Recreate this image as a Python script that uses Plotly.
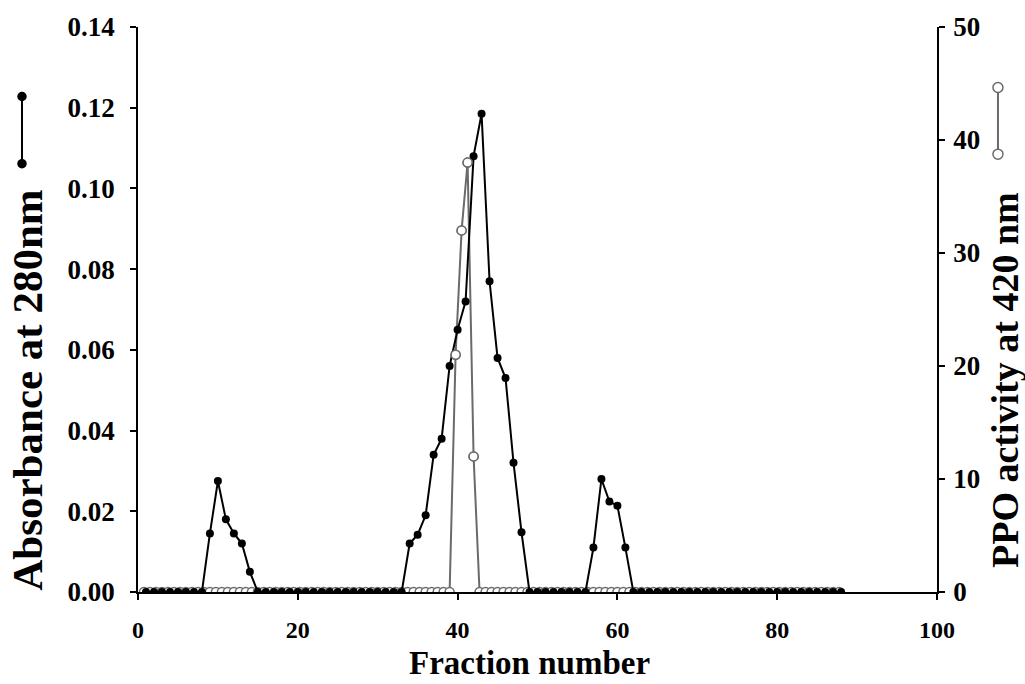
import plotly.graph_objects as go

# Gel-filtration elution profile: protein (A280) and PPO activity per fraction
fraction = list(range(1, 89))
absorbance = [
    0, 0, 0, 0, 0, 0, 0, 0, 0.0145, 0.0275,          # 1-10
    0.018, 0.0145, 0.012, 0.005, 0, 0, 0, 0, 0, 0,   # 11-20
    0, 0, 0, 0, 0, 0, 0, 0, 0, 0,                    # 21-30
    0, 0, 0, 0.012, 0.0142, 0.019, 0.034, 0.038, 0.056, 0.065,   # 31-40
    0.072, 0.108, 0.1185, 0.077, 0.058, 0.053, 0.032, 0.0148, 0, 0,  # 41-50
    0, 0, 0, 0, 0, 0, 0.011, 0.028, 0.0224, 0.0214,  # 51-60
    0.011, 0, 0, 0, 0, 0, 0, 0, 0, 0,                # 61-70
    0, 0, 0, 0, 0, 0, 0, 0, 0, 0,                    # 71-80
    0, 0, 0, 0, 0, 0, 0, 0,                          # 81-88
]

# PPO assay points (plotted on the fraction scale)
ppo_fraction = [round(0.75 * k, 2) for k in range(1, 118)]
ppo_activity = [0.0] * 117
ppo_peak = {53: 21.0, 54: 32.0, 55: 38.0, 56: 12.0}
for k, v in ppo_peak.items():
    ppo_activity[k - 1] = v

FONT = "Liberation Serif"
GREY = "#6a6a6a"

fig = go.Figure()

# PPO activity profile (right axis, bottom layer)
fig.add_trace(go.Scatter(
    x=ppo_fraction, y=ppo_activity, yaxis="y", mode="lines+markers",
    line=dict(color=GREY, width=2),
    marker=dict(symbol="circle", size=9, color="white",
                line=dict(color=GREY, width=1.5)),
    showlegend=False, hoverinfo="skip",
))

# Absorbance at 280 nm (left axis, drawn above)
fig.add_trace(go.Scatter(
    x=fraction, y=absorbance, yaxis="y2", mode="lines+markers",
    line=dict(color="black", width=2),
    marker=dict(symbol="circle", size=8, color="black"),
    showlegend=False,
))

# active PPO fractions kept on top of the protein trace
px = [x for x, v in zip(ppo_fraction, ppo_activity) if v > 0]
py = [v for v in ppo_activity if v > 0]
fig.add_trace(go.Scatter(
    x=px, y=py, yaxis="y3", mode="markers",
    marker=dict(symbol="circle", size=9, color="white",
                line=dict(color=GREY, width=1.5)),
    showlegend=False,
))

def tickfont(size):
    return dict(family=FONT, size=size, color="black", weight="bold")

axis_common = dict(showgrid=False, zeroline=False, showline=True,
                   linecolor="black", linewidth=1.5, ticks="outside",
                   ticklen=6, tickwidth=1.5, tickcolor="black")

fig.update_layout(
    width=1025, height=684,
    margin=dict(l=138, r=88, t=22, b=92),
    paper_bgcolor="white", plot_bgcolor="white",
    xaxis=dict(range=[0, 100], dtick=20, ticklabelstandoff=9,
               tickfont=tickfont(24), **axis_common),
    yaxis=dict(range=[0, 50], dtick=10, side="right",
               ticklabelstandoff=3, tickfont=tickfont(27), **axis_common),
    yaxis2=dict(range=[0, 0.14], dtick=0.02, tickformat=".2f",
                overlaying="y", side="left",
                ticklabelstandoff=10, tickfont=tickfont(27), **axis_common),
    yaxis3=dict(range=[0, 50], overlaying="y", side="right", visible=False),
)

title_font = dict(family=FONT, color="black", weight="bold")
fig.add_annotation(text="Fraction number", xref="paper", yref="paper",
                   x=0.4906, y=-0.126, xanchor="center", yanchor="middle",
                   showarrow=False, font=dict(size=33, **title_font))
fig.add_annotation(text="Absorbance at 280nm", xref="paper", yref="paper",
                   x=-0.1377, y=0.358, xanchor="center", yanchor="middle",
                   textangle=-90, showarrow=False,
                   font=dict(size=43, **title_font))
fig.add_annotation(text="PPO activity at 420 nm", xref="paper", yref="paper",
                   x=1.085, y=0.375, xanchor="center", yanchor="middle",
                   textangle=-90, showarrow=False,
                   font=dict(size=38, **title_font))

# series keys beside the axis titles
def key(xp, y_top, y_bot, color, filled, r):
    fig.add_shape(type="line", xref="paper", yref="paper",
                  x0=xp, x1=xp, y0=y_bot, y1=y_top,
                  line=dict(color=color, width=2))
    for yp in (y_top, y_bot):
        fig.add_shape(type="circle", xref="paper", yref="paper",
                      xsizemode="pixel", ysizemode="pixel",
                      xanchor=xp, yanchor=yp, x0=-r, x1=r, y0=-r, y1=r,
                      fillcolor=color if filled else "white",
                      line=dict(color=color, width=1.5))

key(-0.1452, 0.877, 0.758, "black", True, 4)
key(1.0763, 0.893, 0.775, GREY, False, 5)

fig.write_html("out.html")
